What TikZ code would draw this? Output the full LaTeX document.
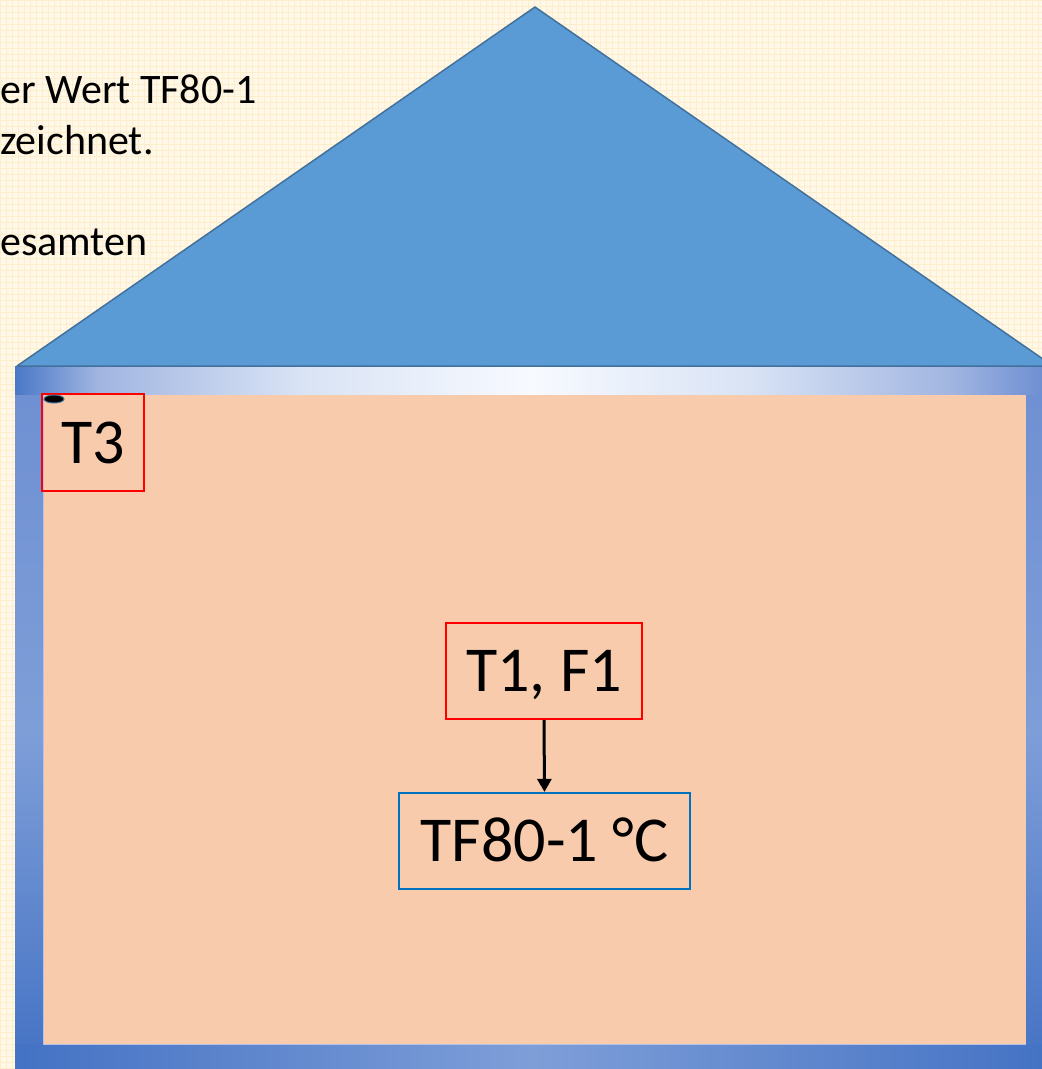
\documentclass[tikz,border=0pt]{standalone}
\usepackage{fontspec}
\setmainfont{Carlito}
\usetikzlibrary{arrows.meta}
\definecolor{bgcream}{HTML}{FFF8E8}
\definecolor{gridc}{HTML}{FCEDCB}
\definecolor{roofc}{HTML}{5B9BD5}
\definecolor{roofline}{HTML}{41719C}
\definecolor{peach}{HTML}{F8CBAD}
\definecolor{walldark}{HTML}{4472C4}
\definecolor{wallmid}{HTML}{7E9ED8}
\definecolor{walltop}{HTML}{6F90D2}
\definecolor{peachline}{HTML}{B4C2E6}
\definecolor{boxred}{HTML}{FF0000}
\definecolor{boxblue}{HTML}{0070C0}
\pgfdeclarehorizontalshading{topstrip}{100bp}{
  rgb(0bp)=(0.29,0.47,0.78); rgb(25bp)=(0.29,0.47,0.78);
  rgb(29bp)=(0.63,0.71,0.88); rgb(38.8bp)=(0.85,0.89,0.96);
  rgb(49.9bp)=(0.97,0.98,1.0); rgb(60.5bp)=(0.85,0.89,0.96);
  rgb(70.2bp)=(0.63,0.71,0.88); rgb(75bp)=(0.42,0.55,0.82);
  rgb(100bp)=(0.42,0.55,0.82)}
\tikzset{
  bigbox/.style={draw=boxred, line width=2.2pt, font=\fontsize{64}{64}\selectfont,
    text height=41pt, text depth=0pt, inner sep=0pt, align=center},
  bluebox/.style={bigbox, draw=boxblue},
  sidetext/.style={anchor=base west, inner sep=0pt, font=\fontsize{42}{42}\selectfont},
  flow/.style={draw=black, line width=3pt, -{Triangle[width=14pt,length=13pt]}}
}
\begin{document}
\begin{tikzpicture}[x=1pt,y=-1pt]
\useasboundingbox (0,0) rectangle (1042,1069);
\clip (0,0) rectangle (1042,1069);
% background with grid
\fill[bgcream] (0,0) rectangle (1042,1069);
\draw[gridc, line width=0.5pt, step=6pt] (0,0) grid (1042,1069);
% side text
\node[sidetext] (l1) at (0,103) {er Wert TF80-1};
\node[sidetext] (l2) at (0,154) {zeichnet.};
\node[sidetext] (l3) at (0,255) {esamten};
% wall frame strips
\shade[shading=topstrip] (15,366) rectangle (1050,395);
\shade[top color=walltop, bottom color=walldark, middle color=wallmid] (15,395) rectangle (43,1069);
\shade[top color=walltop, bottom color=walldark, middle color=wallmid] (1026,395) rectangle (1050,1069);
\shade[left color=walldark, right color=walldark, middle color=wallmid] (15,1044) rectangle (1050,1069);
% inner peach
\fill[peach] (43,395) rectangle (1026,1044);
\draw[peachline, line width=1pt] (43,395) -- (43,1044) -- (1026,1044);
% roof
\filldraw[fill=roofc, draw=roofline, line width=1.5pt, line join=round] (17,366) -- (535,7) -- (1053,366) -- cycle;
% boxes
\node[bigbox, minimum width=102pt, minimum height=97pt] (t3) at (93,442.5) {T3};
\node[bigbox, minimum width=196pt, minimum height=96pt] (t1) at (544,671) {T1, F1};
\node[bluebox, minimum width=291pt, minimum height=96pt] (tf) at (544.5,841) {TF80-1 °C};
% sensor dot
\filldraw[fill=black, draw=roofline, line width=1pt] (54,399) ellipse [x radius=10pt, y radius=4pt];
% connector
\draw[flow] (t1.south) -- (tf.north);
\end{tikzpicture}
\end{document}
